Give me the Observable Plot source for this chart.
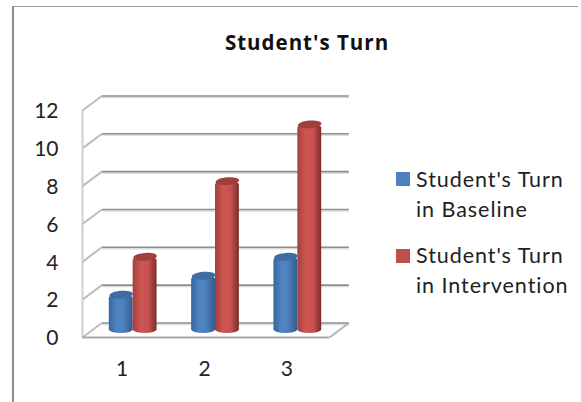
<!DOCTYPE html>
<html>
<head>
<meta charset="utf-8">
<script src="https://cdn.jsdelivr.net/npm/d3@7"></script>
<script src="https://cdn.jsdelivr.net/npm/@observablehq/plot@0.6"></script>
<style>
  html, body { margin: 0; padding: 0; background: #fff; }
  #chart { position: relative; width: 581px; height: 402px; overflow: hidden; font-family: Lato, sans-serif; color: #222; }
  #chart svg { position: absolute; left: 0; top: 0; background: transparent; }
  .border { position: absolute; left: 12px; top: 6px; right: 3px; bottom: 0; border-left: 2px solid #8c8c8c; border-top: 1.5px solid #a0a0a0; }
  h1 { position: absolute; left: 157px; width: 300px; top: 30px; margin: 0; text-align: center; font-family: "Open Sans", sans-serif; font-size: 20.5px; letter-spacing: 1px; line-height: 24px; font-weight: 700; color: #111; }
  .entry { position: absolute; left: 396px; font-size: 21.5px; line-height: 30px; letter-spacing: 0.95px; white-space: nowrap; }
  .entry i { position: absolute; left: 0; width: 14px; height: 14px; }
  .entry span { display: block; margin-left: 20px; }
</style>
</head>
<body>
<div id="chart">
  <div class="border"></div>
  <h1></h1>
</div>
<script>
const chartTitle = "Student's Turn";
const categories = [1, 2, 3];
const baseline = [2, 3, 4];
const intervention = [4, 8, 11];
const yTicks = [0, 2, 4, 6, 8, 10, 12];
const seriesNames = [["Student's Turn", "in Baseline"], ["Student's Turn", "in Intervention"]];

// Depth of the 3-D box, in x and y data units.
const depthX = 0.235;
const depthY = 0.77;
const xMin = 0.5;
const xMax = 3.5;
const barSpan = 0.29;

// Flat ellipse, slightly tilted, used for the cylinder tops.
const capSymbol = {
  draw(ctx, size) {
    const a = Math.sqrt(size / Math.PI), b = a * 0.33, k = 0.5523, t = -0.07;
    const c = Math.cos(t), s = Math.sin(t);
    const p = (x, y) => [x * c - y * s, x * s + y * c];
    const seg = (x1, y1, x2, y2, x3, y3) => ctx.bezierCurveTo(...p(x1, y1), ...p(x2, y2), ...p(x3, y3));
    ctx.moveTo(...p(a, 0));
    seg(a, k * b, k * a, b, 0, b);
    seg(-k * a, b, -a, k * b, -a, 0);
    seg(-a, -k * b, -k * a, -b, 0, -b);
    seg(k * a, -b, a, -k * b, a, 0);
    ctx.closePath();
  }
};

function gradient(id, stops) {
  const g = d3.create("svg:linearGradient").attr("id", id);
  stops.forEach(([o, c]) => g.append("stop").attr("offset", o).attr("stop-color", c));
  return g.node();
}

const defsMark = () => {
  const defs = d3.create("svg:defs");
  defs.append(() => gradient("blueBody", [[0, "#39659c"], [0.35, "#4f85c4"], [0.6, "#4f81bd"], [1, "#335c90"]]));
  defs.append(() => gradient("redBody", [[0, "#a5403d"], [0.35, "#cd5652"], [0.65, "#c9524f"], [0.88, "#96393a"], [1, "#7a2c2b"]]));
  return defs.node();
};

// One series of cylinders: body with rounded ends, then a darker elliptical top.
function cylinders(values, side, body, cap) {
  const rows = categories.map((c, i) => ({c, v: values[i]}));
  const x1 = d => d.c + (side < 0 ? -barSpan : 0);
  const x2 = d => d.c + (side < 0 ? 0 : barSpan);
  const shift = {dx: 9.5, dy: -5};
  return [
    Plot.rect(rows, {x1, x2, y1: -0.05, y2: "v", fill: `url(#${body})`, rx: 12, ry: 3.5, ...shift}),
    Plot.dot(rows, {x: d => (x1(d) + x2(d)) / 2, y: "v", r: 11.8, symbol: capSymbol, fill: cap, stroke: "none", ...shift})
  ];
}

const backRows = yTicks.map(v => ({v}));
const grid = (stroke, strokeWidth, dy) => Plot.link(backRows, {
  x1: xMin + depthX, x2: xMax + depthX,
  y1: d => d.v + depthY, y2: d => d.v + depthY,
  stroke, strokeWidth, dy
});
const slant = (stroke, strokeWidth) => Plot.link(backRows, {
  x1: xMin, x2: xMin + depthX,
  y1: d => d.v, y2: d => d.v + depthY,
  stroke, strokeWidth
});

const plot = Plot.plot({
  width: 581,
  height: 402,
  marginLeft: 82,
  marginRight: 252,
  marginTop: 110,
  marginBottom: 65,
  x: {domain: [xMin, xMax]},
  y: {domain: [0, 12]},
  marks: [
    defsMark,
    grid("#dcdcdc", 1.5, 1.5),
    grid("#8e8e8e", 1.6, 0),
    slant("#bdbdbd", 2),
    Plot.ruleX([xMin], {y1: 0, y2: 12, stroke: "#cfcfcf", strokeWidth: 2}),
    Plot.link([0], {x1: xMax, x2: xMax + depthX, y1: 0, y2: depthY, stroke: "#b5b5b5", strokeWidth: 2}),
    Plot.ruleY([0], {x1: xMin, x2: xMax, stroke: "#a8a8a8", strokeWidth: 2.2}),
    ...cylinders(baseline, -1, "blueBody", "#3f6ca3"),
    ...cylinders(intervention, 1, "redBody", "#a03f3c"),
    Plot.axisY({ticks: yTicks, tickSize: 0, tickPadding: 24, label: null, fontSize: 21, dy: 1, fill: "#222", fontFamily: "Lato, sans-serif"}),
    Plot.axisX({ticks: categories, tickSize: 0, tickPadding: 24, label: null, fontSize: 21, dx: -1.5, fill: "#222", fontFamily: "Lato, sans-serif", tickFormat: d => `${d}`})
  ]
});

const root = document.getElementById("chart");
root.querySelector("h1").textContent = chartTitle;
root.appendChild(plot);

// Legend to the right of the plot.
const swatches = ["#4f81bd", "#c0504d"];
const tops = [164, 240];
seriesNames.forEach((lines, i) => {
  const e = document.createElement("div");
  e.className = "entry";
  e.style.top = tops[i] + "px";
  const sw = document.createElement("i");
  sw.style.background = swatches[i];
  sw.style.top = (i === 0 ? 8 : 9) + "px";
  e.appendChild(sw);
  lines.forEach(t => {
    const s = document.createElement("span");
    s.textContent = t;
    e.appendChild(s);
  });
  root.appendChild(e);
});
</script>
</body>
</html>
